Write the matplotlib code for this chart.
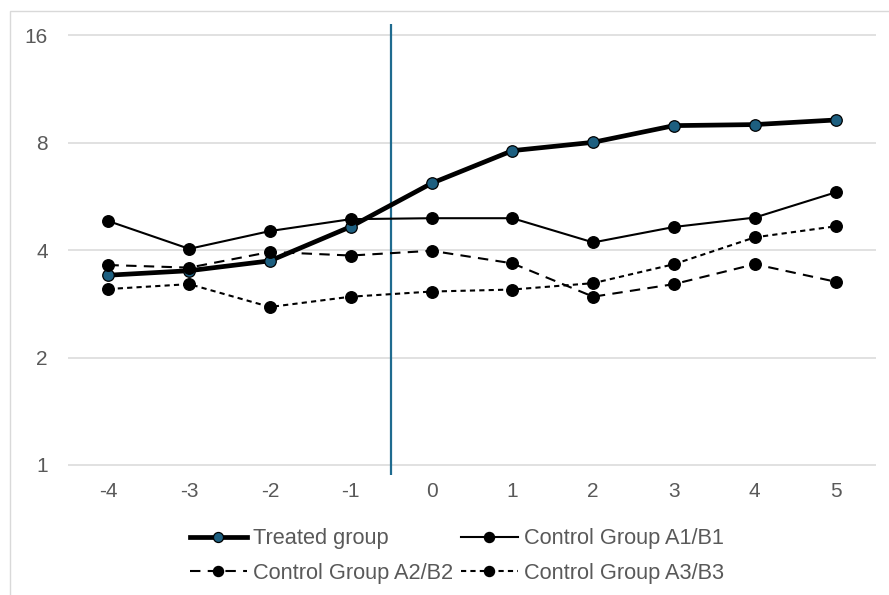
import matplotlib
matplotlib.use("Agg")
import matplotlib.pyplot as plt
from matplotlib.patches import Rectangle
from matplotlib.ticker import FixedLocator, FixedFormatter, NullLocator

periods = [-4, -3, -2, -1, 0, 1, 2, 3, 4, 5]
treated = [3.40, 3.50, 3.73, 4.65, 6.15, 7.59, 8.01, 8.92, 8.98, 9.25]
control_a1 = [4.82, 4.03, 4.52, 4.88, 4.91, 4.91, 4.20, 4.64, 4.93, 5.80]
control_a2 = [3.63, 3.57, 3.95, 3.86, 3.98, 3.67, 2.96, 3.21, 3.65, 3.26]
control_a3 = [3.11, 3.21, 2.77, 2.96, 3.06, 3.10, 3.23, 3.65, 4.34, 4.66]
y_ticks = [1, 2, 4, 8, 16]
y_tick_labels = ["1", "2", "4", "8", "16"]
event_x = -0.5

plt.rcParams['font.family'] = ['Liberation Sans', 'DejaVu Sans']
gray_text = "#595959"
blue = "#1d5f80"
fs = 15
fs_leg = 15.7

fig = plt.figure(figsize=(8.89, 5.95), dpi=100)
ax = fig.add_axes([68/889, 1-475/595, 808/889, 451/595])

ax.set_yscale('log', base=2)
ax.set_ylim(2**(-10/107.5), 2**(441/107.5))
ax.set_xlim(-4.5, 5.5)

ax.yaxis.set_major_locator(FixedLocator(y_ticks))
ax.yaxis.set_major_formatter(FixedFormatter(y_tick_labels))
ax.yaxis.set_minor_locator(NullLocator())
ax.set_xticks(periods)
ax.set_xticklabels([str(p) for p in periods])

ax.grid(axis='y', color='#d9d9d9', linewidth=1.1)
ax.set_axisbelow(True)
for s in ax.spines.values():
    s.set_visible(False)
ax.tick_params(axis='both', length=0, labelsize=fs, colors=gray_text)
ax.tick_params(axis='y', pad=14.5)
ax.tick_params(axis='x', pad=5)

ax.axvline(event_x, color="#1f6b8f", linewidth=1.6, zorder=1)

ms = 8.3
h_t, = ax.plot(periods, treated, color='black', linewidth=3.4, marker='o',
               markersize=ms, markerfacecolor=blue, markeredgecolor='black',
               markeredgewidth=0.9, label='Treated group', zorder=3)
h_1, = ax.plot(periods, control_a1, color='black', linewidth=1.5, marker='o',
               markersize=ms, markerfacecolor='black', markeredgecolor='black',
               label='Control Group A1/B1', zorder=4)
h_2, = ax.plot(periods, control_a2, color='black', linewidth=1.5, marker='o',
               markersize=ms, markerfacecolor='black', markeredgecolor='black',
               linestyle=(0, (5, 3.5)), label='Control Group A2/B2', zorder=4)
h_3, = ax.plot(periods, control_a3, color='black', linewidth=1.5, marker='o',
               markersize=ms, markerfacecolor='black', markeredgecolor='black',
               linestyle=(0, (2.5, 2)), label='Control Group A3/B3', zorder=4)

leg = fig.legend([h_t, h_2, h_1, h_3],
                 ['Treated group', 'Control Group A2/B2', 'Control Group A1/B1', 'Control Group A3/B3'],
                 ncol=2, loc='center', bbox_to_anchor=(457/889, 1-556/595),
                 frameon=False, fontsize=fs_leg, handlelength=2.6, handletextpad=0.3,
                 columnspacing=0.35, labelspacing=0.62, markerscale=0.87)
for t in leg.get_texts():
    t.set_color(gray_text)

border = Rectangle((10/889, -0.2), 1.2, 1.2 - 11/595, transform=fig.transFigure,
                   fill=False, edgecolor='#d9d9d9', linewidth=1.0, clip_on=False)
fig.patches.append(border)

fig.savefig("out.png", dpi=100)
